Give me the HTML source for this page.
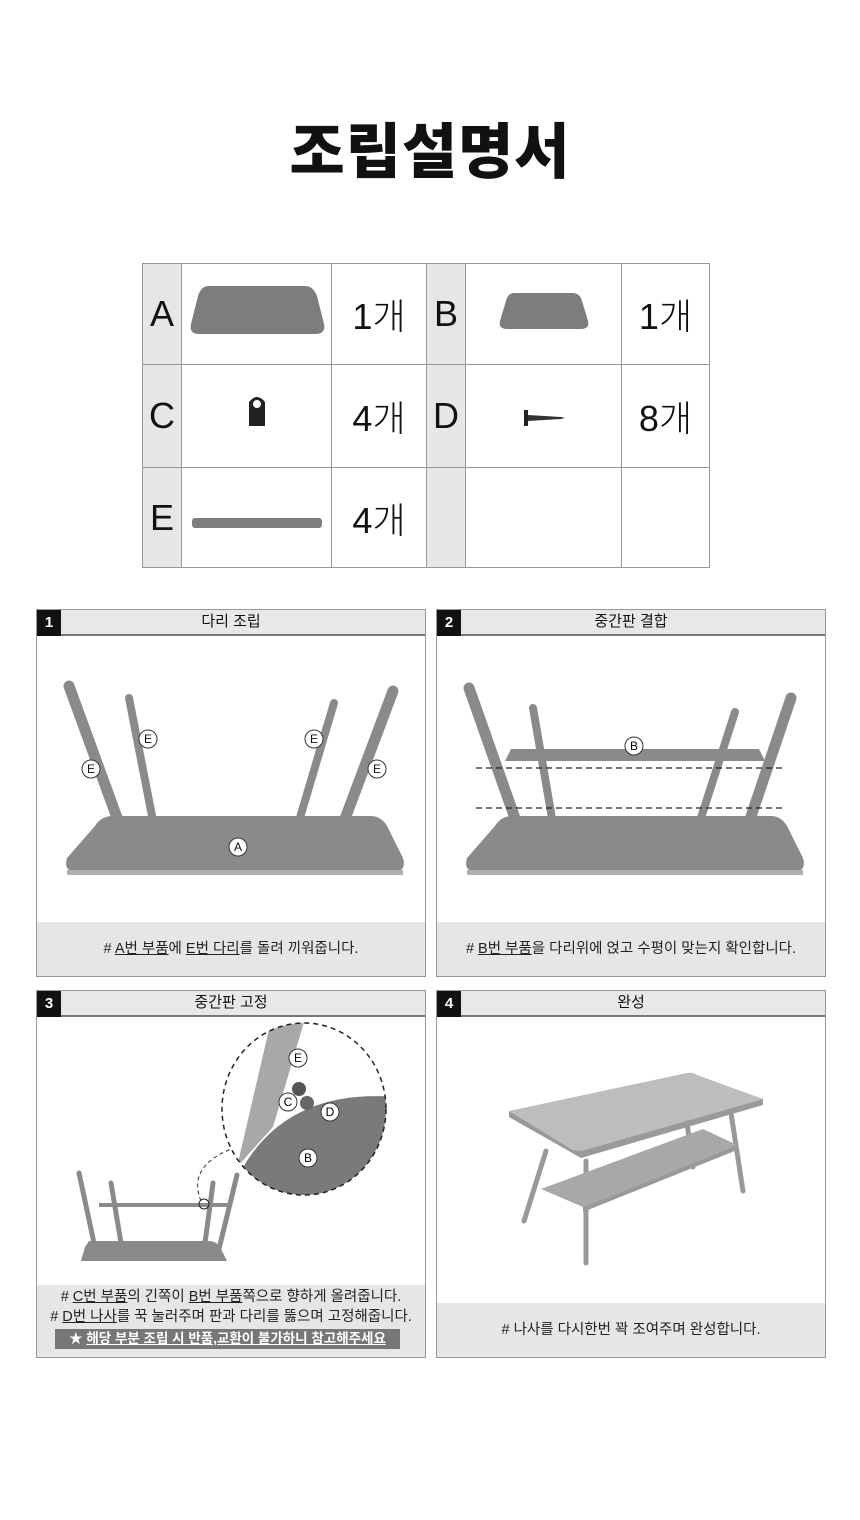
<!DOCTYPE html>
<html><head><meta charset="utf-8"><style>
body{margin:0;width:860px;height:1520px;background:#fff;font-family:"Liberation Sans","Noto Sans CJK KR",sans-serif;position:relative;overflow:hidden}
.a{position:absolute}
h1{position:absolute;left:0;width:860px;top:104px;margin:0;text-align:center;font-size:60px;font-weight:900;letter-spacing:1px;color:#111}
table{position:absolute;left:142px;top:263px;border-collapse:collapse}
td{border:1.5px solid #999;padding:0;text-align:center;font-size:36px;color:#111;font-weight:300}
td.l{background:#e6e6e6;width:38px}
.p{position:absolute;border:1px solid #999;background:#fff}
.hd{position:absolute;left:0;top:0;right:0;height:24px;background:#e8e8e8;border-bottom:2px solid #777;text-align:center;font-size:15px;line-height:24px;color:#111}
.num{position:absolute;left:0;top:0;width:24px;height:26px;background:#111;color:#fff;font-weight:bold;font-size:15px;line-height:26px;text-align:center}
.cap{position:absolute;left:0;right:0;bottom:0;background:#e6e6e6;text-align:center;font-size:14.5px;color:#222}
u{text-decoration:underline}
</style></head><body>
<h1>조립설명서</h1>
<table>
<tr style="height:101px"><td class="l">A</td><td style="width:149px"><svg width="140" height="60"><path d="M22 6 H118 Q126 6 130 16 L137 44 Q139 54 128 54 H12 Q2 54 4 44 L11 16 Q14 6 22 6Z" fill="#7d7d7d"/></svg></td><td style="width:94px">1개</td><td class="l">B</td><td style="width:155px"><svg width="96" height="46"><path d="M18 6 H76 Q84 6 86 14 L92 34 Q94 42 84 42 H12 Q2 42 4 34 L10 14 Q12 6 18 6Z" fill="#7d7d7d"/></svg></td><td style="width:87px">1개</td></tr>
<tr style="height:103px"><td class="l">C</td><td><svg width="24" height="36"><path d="M4 8 Q12 -2 20 8 V32 H4Z" fill="#222"/><circle cx="12" cy="10" r="4" fill="#fff"/></svg></td><td>4개</td><td class="l">D</td><td><svg width="46" height="20"><rect x="3" y="2" width="4" height="16" fill="#222"/><path d="M7 7 L40 9 L44 10 L40 11 L7 13Z" fill="#333"/></svg></td><td>8개</td></tr>
<tr style="height:100px"><td class="l">E</td><td><svg width="130" height="14"><rect x="0" y="2" width="130" height="10" rx="3" fill="#7d7d7d"/></svg></td><td>4개</td><td class="l"></td><td></td><td></td></tr>
</table>

<div class="p" style="left:36px;top:609px;width:388px;height:366px">
<div class="hd">다리 조립</div><div class="num">1</div>
<svg class="a" style="left:0;top:26px" width="388" height="286">
<path d="M76 180 H334 Q344 180 350 190 L366 222 Q370 236 356 236 H40 Q26 236 30 222 L58 190 Q64 180 76 180Z" fill="#8a8a8a"/>
<rect x="30" y="234" width="336" height="5" fill="#b0b0b0"/>
<g stroke="#8a8a8a" stroke-linecap="round"><line x1="32" y1="50" x2="94" y2="220" stroke-width="11"/><line x1="92" y1="62" x2="116" y2="185" stroke-width="8"/><line x1="297" y1="67" x2="262" y2="185" stroke-width="8"/><line x1="356" y1="55" x2="294" y2="220" stroke-width="11"/></g>
<g fill="#fff" stroke="#333"><circle cx="111" cy="103" r="9"/><circle cx="54" cy="133" r="9"/><circle cx="277" cy="103" r="9"/><circle cx="340" cy="133" r="9"/><circle cx="201" cy="211" r="9"/></g>
<g font-size="12" text-anchor="middle" fill="#111"><text x="111" y="107">E</text><text x="54" y="137">E</text><text x="277" y="107">E</text><text x="340" y="137">E</text><text x="201" y="215">A</text></g>
</svg>
<div class="cap" style="height:54px;line-height:54px"># <u>A번 부품</u>에 <u>E번 다리</u>를 돌려 끼워줍니다.</div>
</div>

<div class="p" style="left:436px;top:609px;width:388px;height:366px">
<div class="hd">중간판 결합</div><div class="num">2</div>
<svg class="a" style="left:0;top:26px" width="388" height="286">
<path d="M76 180 H334 Q344 180 350 190 L366 222 Q370 236 356 236 H40 Q26 236 30 222 L58 190 Q64 180 76 180Z" fill="#8a8a8a"/>
<rect x="30" y="234" width="336" height="5" fill="#b0b0b0"/>
<g stroke="#8a8a8a" stroke-linecap="round"><line x1="32" y1="52" x2="92" y2="222" stroke-width="11"/><line x1="96" y1="72" x2="116" y2="188" stroke-width="8"/><line x1="298" y1="76" x2="262" y2="188" stroke-width="8"/><line x1="354" y1="62" x2="300" y2="222" stroke-width="11"/></g>
<path d="M74 113 H322 L328 125 H68Z" fill="#8a8a8a"/>
<g stroke="#222" stroke-dasharray="6 4" stroke-width="1.3"><line x1="39" y1="132" x2="347" y2="132"/><line x1="39" y1="172" x2="347" y2="172"/></g>
<circle cx="197" cy="110" r="9" fill="#fff" stroke="#333"/><text x="197" y="114" font-size="12" text-anchor="middle">B</text>
</svg>
<div class="cap" style="height:54px;line-height:54px"># <u>B번 부품</u>을 다리위에 얹고 수평이 맞는지 확인합니다.</div>
</div>

<div class="p" style="left:36px;top:990px;width:388px;height:366px">
<div class="hd">중간판 고정</div><div class="num">3</div>
<svg class="a" style="left:0;top:26px" width="388" height="270">
<path d="M52 224 H172 Q180 224 184 232 L190 244 H44 L48 230Z" fill="#8a8a8a"/>
<g stroke="#8a8a8a" stroke-linecap="round" stroke-width="5"><line x1="42" y1="156" x2="60" y2="240"/><line x1="74" y1="166" x2="84" y2="226"/><line x1="176" y1="166" x2="168" y2="226"/><line x1="200" y1="158" x2="180" y2="240"/></g>
<rect x="62" y="186" width="132" height="4" fill="#8a8a8a"/>
<circle cx="167" cy="187" r="5" fill="none" stroke="#222"/>
<path d="M164 184 Q150 150 194 132" fill="none" stroke="#333" stroke-dasharray="4 3"/>
<defs><clipPath id="c"><ellipse cx="267" cy="92" rx="82" ry="86"/></clipPath></defs>
<g clip-path="url(#c)"><rect x="180" y="0" width="180" height="180" fill="#fff"/><path d="M236 -5 L270 -5 L236 110 L200 150Z" fill="#a8a8a8"/><path d="M196 170 Q240 70 360 80 V190 H196Z" fill="#7a7a7a"/><circle cx="262" cy="72" r="7" fill="#555"/><circle cx="270" cy="86" r="7" fill="#666"/></g>
<ellipse cx="267" cy="92" rx="82" ry="86" fill="none" stroke="#222" stroke-dasharray="5 4" stroke-width="1.5"/>
<g fill="#fff" stroke="#333"><circle cx="261" cy="41" r="9"/><circle cx="251" cy="85" r="9"/><circle cx="293" cy="95" r="9"/><circle cx="271" cy="141" r="9"/></g>
<g font-size="12" text-anchor="middle"><text x="261" y="45">E</text><text x="251" y="89">C</text><text x="293" y="99">D</text><text x="271" y="145">B</text></g>
</svg>
<div class="cap" style="height:70px;line-height:20px;padding-top:2px">
<div># <u>C번 부품</u>의 긴쪽이 <u>B번 부품</u>쪽으로 향하게 올려줍니다.</div>
<div># <u>D번 나사</u>를 꾹 눌러주며 판과 다리를 뚫으며 고정해줍니다.</div>
<div style="margin:2px 0 0 18px;width:345px;height:20px;background:#777;color:#fff;font-weight:bold;font-size:13.5px;line-height:20px">★ <u>해당 부분 조립 시 반품,교환이 불가하니 참고해주세요</u></div>
</div>
</div>

<div class="p" style="left:436px;top:990px;width:388px;height:366px">
<div class="hd">완성</div><div class="num">4</div>
<svg class="a" style="left:0;top:26px" width="388" height="286">
<g stroke="#999" stroke-linecap="round" stroke-width="5"><line x1="109" y1="134" x2="87" y2="204"/><line x1="149" y1="144" x2="149" y2="246"/><line x1="294" y1="96" x2="306" y2="174"/><line x1="250" y1="106" x2="256" y2="150"/></g>
<path d="M104 172 L266 112 L300 128 L146 190Z" fill="#a8a8a8"/>
<path d="M146 190 L300 128 L300 133 L146 195Z" fill="#999"/>
<path d="M72 94 L250 56 Q256 55 260 58 L326 82 L144 134 Q140 135 136 133 Z" fill="#bdbdbd"/>
<path d="M72 94 L136 133 L144 134 L326 82 L326 88 L144 141 L72 100Z" fill="#9a9a9a"/>
</svg>
<div class="cap" style="height:54px;line-height:54px"># 나사를 다시한번 꽉 조여주며 완성합니다.</div>
</div>
</body></html>
